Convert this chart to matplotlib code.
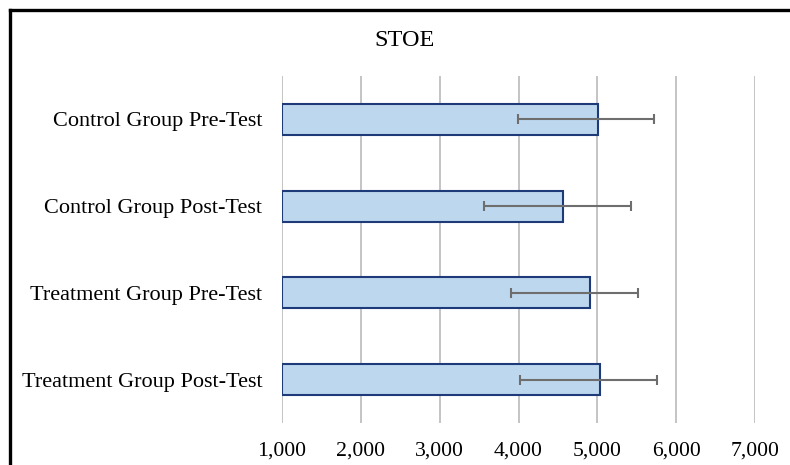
import matplotlib
matplotlib.use("Agg")
import matplotlib.pyplot as plt
from matplotlib.lines import Line2D
from matplotlib.ticker import FuncFormatter

# Datos
grupos = ["Control Group Pre-Test", "Control Group Post-Test",
          "Treatment Group Pre-Test", "Treatment Group Post-Test"]
medias = [5008, 4564, 4912, 5029]
err_bajo = [3995, 3561, 3904, 4025]   # extremo izquierdo de la barra de error
err_alto = [5711, 5420, 5518, 5760]   # extremo derecho
titulo = "STOE"
ticks_x = [1000, 2000, 3000, 4000, 5000, 6000, 7000]

plt.rcParams['font.family'] = ['Liberation Serif', 'DejaVu Serif']

fig = plt.figure(figsize=(7.9, 4.65), dpi=100)
ax = fig.add_axes([281.7 / 790, 1 - 423 / 465, (755.3 - 281.7) / 790, (423 - 76) / 465])

pos = list(range(len(grupos)))
base = ticks_x[0]
anchos = [m - base for m in medias]
ax.barh(pos, anchos, left=base, height=0.36, color="#BDD7EE",
        edgecolor="#1F3A78", linewidth=1.5, zorder=3)

xerr = [[m - b for m, b in zip(medias, err_bajo)],
        [a - m for m, a in zip(medias, err_alto)]]
ax.errorbar(medias, pos, xerr=xerr, fmt="none", ecolor="#6E6E6E",
            elinewidth=1.5, capsize=3.5, capthick=1.5, zorder=4)

ax.set_xlim(ticks_x[0], ticks_x[-1])
ax.set_ylim(3.5, -0.5)
ax.set_xticks(ticks_x)
ax.xaxis.set_major_formatter(FuncFormatter(lambda v, p: f"{int(v):,}"))
ax.set_yticks(pos)
ax.set_yticklabels(grupos)
ax.tick_params(axis="both", length=0, colors="black")
ax.tick_params(axis="x", pad=13, labelsize=15.7)
ax.tick_params(axis="y", pad=14, labelsize=16)

ax.grid(axis="x", color="#BFBFBF", linewidth=1.3, zorder=0)
for s in ax.spines.values():
    s.set_visible(False)

fig.text(405 / 790, 1 - 40 / 465, titulo, ha="center", va="center", fontsize=17.5)

# Marco negro (solo izquierda y arriba visibles)
fig.add_artist(Line2D([9.5 / 790, 9.5 / 790], [0, 1 - 10.5 / 465], color="black", linewidth=2.4))
fig.add_artist(Line2D([9.5 / 790, 1], [1 - 10.5 / 465, 1 - 10.5 / 465], color="black", linewidth=2.4))

fig.savefig("out.png", dpi=100)
